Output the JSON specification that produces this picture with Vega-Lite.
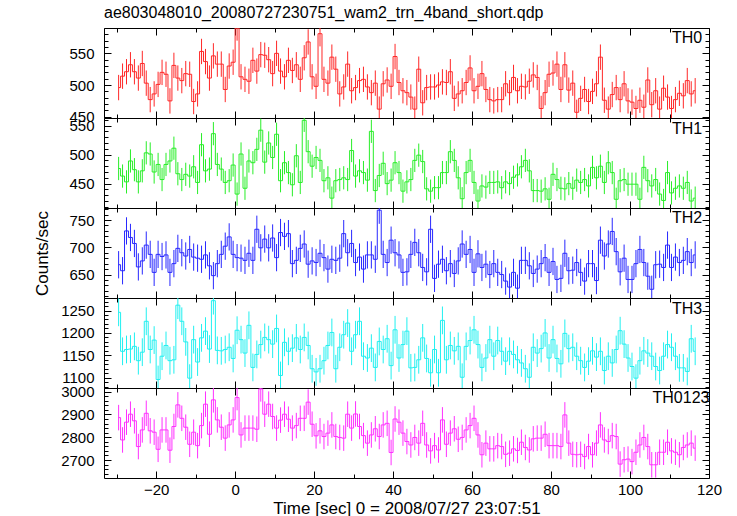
{
"$schema": "https://vega.github.io/schema/vega-lite/v6.json",
"padding": {"left": 33, "top": 5, "right": 5, "bottom": 0},
"title": {"text": "ae803048010_20080727230751_wam2_trn_4band_short.qdp", "anchor": "start", "frame": "group", "fontSize": 16, "fontWeight": "normal", "font": "Liberation Sans", "color": "black", "offset": -16, "baseline": "bottom"},
"spacing": 0,
"bounds": "flush",
"config": {
  "font": "Liberation Sans",
  "view": {"stroke": null},
  "axis": {"grid": false, "domainColor": "black", "tickColor": "black", "labelColor": "black", "titleColor": "black", "labelFontSize": 15, "titleFontSize": 17, "titleFontWeight": "normal", "labelOverlap": false, "labelFlush": false, "labelBound": false, "domainWidth": 1, "tickWidth": 1, "labelFont": "Liberation Sans", "titleFont": "Liberation Sans"}
},
"datasets": {
"th0": [
{"t":-29.5,"v":496,"e":20},{"t":-28.5,"v":514,"e":20},{"t":-27.5,"v":521,"e":20},{"t":-26.5,"v":532,"e":20},{"t":-25.5,"v":521,"e":20},{"t":-24.5,"v":511,"e":20},{"t":-23.5,"v":534,"e":20},{"t":-22.5,"v":503,"e":20},{"t":-21.5,"v":477,"e":20},{"t":-20.5,"v":486,"e":20},
{"t":-19.5,"v":501,"e":20},{"t":-18.5,"v":520,"e":20},{"t":-17.5,"v":517,"e":20},{"t":-16.5,"v":475,"e":20},{"t":-15.5,"v":531,"e":20},{"t":-14.5,"v":511,"e":20},{"t":-13.5,"v":507,"e":20},{"t":-12.5,"v":518,"e":20},{"t":-11.5,"v":517,"e":20},{"t":-10.5,"v":474,"e":20},
{"t":-9.5,"v":486,"e":20},{"t":-8.5,"v":553,"e":20},{"t":-7.5,"v":537,"e":20},{"t":-6.5,"v":511,"e":20},{"t":-5.5,"v":546,"e":20},{"t":-4.5,"v":533,"e":20},{"t":-3.5,"v":533,"e":20},{"t":-2.5,"v":493,"e":20},{"t":-1.5,"v":530,"e":20},{"t":-0.5,"v":536,"e":20},
{"t":0.5,"v":590,"e":20},{"t":1.5,"v":513,"e":20},{"t":2.5,"v":509,"e":20},{"t":3.5,"v":506,"e":20},{"t":4.5,"v":539,"e":20},{"t":5.5,"v":522,"e":20},{"t":6.5,"v":548,"e":20},{"t":7.5,"v":547,"e":20},{"t":8.5,"v":540,"e":20},{"t":9.5,"v":518,"e":20},
{"t":10.5,"v":550,"e":20},{"t":11.5,"v":522,"e":20},{"t":12.5,"v":513,"e":20},{"t":13.5,"v":539,"e":20},{"t":14.5,"v":523,"e":20},{"t":15.5,"v":532,"e":20},{"t":16.5,"v":509,"e":20},{"t":17.5,"v":543,"e":20},{"t":18.5,"v":568,"e":20},{"t":19.5,"v":513,"e":20},
{"t":20.5,"v":498,"e":20},{"t":21.5,"v":581,"e":20},{"t":22.5,"v":509,"e":20},{"t":23.5,"v":503,"e":20},{"t":24.5,"v":544,"e":20},{"t":25.5,"v":525,"e":20},{"t":26.5,"v":486,"e":20},{"t":27.5,"v":497,"e":20},{"t":28.5,"v":533,"e":20},{"t":29.5,"v":491,"e":20},
{"t":30.5,"v":496,"e":20},{"t":31.5,"v":507,"e":20},{"t":32.5,"v":509,"e":20},{"t":33.5,"v":497,"e":20},{"t":34.5,"v":488,"e":20},{"t":35.5,"v":503,"e":20},{"t":36.5,"v":462,"e":20},{"t":37.5,"v":502,"e":20},{"t":38.5,"v":508,"e":20},{"t":39.5,"v":498,"e":20},
{"t":40.5,"v":545,"e":20},{"t":41.5,"v":504,"e":20},{"t":42.5,"v":491,"e":20},{"t":43.5,"v":488,"e":20},{"t":44.5,"v":481,"e":20},{"t":45.5,"v":462,"e":20},{"t":46.5,"v":525,"e":20},{"t":47.5,"v":472,"e":20},{"t":48.5,"v":496,"e":20},{"t":49.5,"v":497,"e":20},
{"t":50.5,"v":497,"e":20},{"t":51.5,"v":500,"e":20},{"t":52.5,"v":505,"e":20},{"t":53.5,"v":504,"e":20},{"t":54.5,"v":521,"e":20},{"t":55.5,"v":479,"e":20},{"t":56.5,"v":486,"e":20},{"t":57.5,"v":491,"e":20},{"t":58.5,"v":504,"e":20},{"t":59.5,"v":527,"e":20},
{"t":60.5,"v":491,"e":20},{"t":61.5,"v":498,"e":20},{"t":62.5,"v":518,"e":20},{"t":63.5,"v":493,"e":20},{"t":64.5,"v":477,"e":20},{"t":65.5,"v":475,"e":20},{"t":66.5,"v":477,"e":20},{"t":67.5,"v":477,"e":20},{"t":68.5,"v":502,"e":20},{"t":69.5,"v":488,"e":20},
{"t":70.5,"v":512,"e":20},{"t":71.5,"v":491,"e":20},{"t":72.5,"v":498,"e":20},{"t":73.5,"v":497,"e":20},{"t":74.5,"v":506,"e":20},{"t":75.5,"v":516,"e":20},{"t":76.5,"v":512,"e":20},{"t":77.5,"v":463,"e":20},{"t":78.5,"v":488,"e":20},{"t":79.5,"v":517,"e":20},
{"t":80.5,"v":519,"e":20},{"t":81.5,"v":533,"e":20},{"t":82.5,"v":493,"e":20},{"t":83.5,"v":532,"e":20},{"t":84.5,"v":492,"e":20},{"t":85.5,"v":503,"e":20},{"t":86.5,"v":457,"e":20},{"t":87.5,"v":479,"e":20},{"t":88.5,"v":493,"e":20},{"t":89.5,"v":474,"e":20},
{"t":90.5,"v":490,"e":20},{"t":91.5,"v":502,"e":20},{"t":92.5,"v":544,"e":20},{"t":93.5,"v":476,"e":20},{"t":94.5,"v":462,"e":20},{"t":95.5,"v":485,"e":20},{"t":96.5,"v":496,"e":20},{"t":97.5,"v":477,"e":20},{"t":98.5,"v":502,"e":20},{"t":99.5,"v":475,"e":20},
{"t":100.5,"v":473,"e":20},{"t":101.5,"v":463,"e":20},{"t":102.5,"v":476,"e":20},{"t":103.5,"v":465,"e":20},{"t":104.5,"v":508,"e":20},{"t":105.5,"v":469,"e":20},{"t":106.5,"v":491,"e":20},{"t":107.5,"v":462,"e":20},{"t":108.5,"v":495,"e":20},{"t":109.5,"v":481,"e":20},
{"t":110.5,"v":463,"e":20},{"t":111.5,"v":477,"e":20},{"t":112.5,"v":487,"e":20},{"t":113.5,"v":483,"e":20},{"t":114.5,"v":507,"e":20},{"t":115.5,"v":486,"e":20},{"t":116.5,"v":491,"e":20}
],
"th1": [
{"t":-29.5,"v":476,"e":20},{"t":-28.5,"v":463,"e":20},{"t":-27.5,"v":453,"e":20},{"t":-26.5,"v":489,"e":20},{"t":-25.5,"v":474,"e":20},{"t":-24.5,"v":453,"e":20},{"t":-23.5,"v":472,"e":20},{"t":-22.5,"v":503,"e":20},{"t":-21.5,"v":501,"e":20},{"t":-20.5,"v":470,"e":20},
{"t":-19.5,"v":483,"e":20},{"t":-18.5,"v":457,"e":20},{"t":-17.5,"v":483,"e":20},{"t":-16.5,"v":489,"e":20},{"t":-15.5,"v":511,"e":20},{"t":-14.5,"v":467,"e":20},{"t":-13.5,"v":457,"e":20},{"t":-12.5,"v":466,"e":20},{"t":-11.5,"v":463,"e":20},{"t":-10.5,"v":479,"e":20},
{"t":-9.5,"v":452,"e":20},{"t":-8.5,"v":517,"e":20},{"t":-7.5,"v":472,"e":20},{"t":-6.5,"v":475,"e":20},{"t":-5.5,"v":536,"e":20},{"t":-4.5,"v":483,"e":20},{"t":-3.5,"v":475,"e":20},{"t":-2.5,"v":452,"e":20},{"t":-1.5,"v":455,"e":20},{"t":-0.5,"v":482,"e":20},
{"t":0.5,"v":432,"e":20},{"t":1.5,"v":501,"e":20},{"t":2.5,"v":442,"e":20},{"t":3.5,"v":489,"e":20},{"t":4.5,"v":486,"e":20},{"t":5.5,"v":509,"e":20},{"t":6.5,"v":542,"e":20},{"t":7.5,"v":487,"e":20},{"t":8.5,"v":520,"e":20},{"t":9.5,"v":495,"e":20},
{"t":10.5,"v":535,"e":20},{"t":11.5,"v":455,"e":20},{"t":12.5,"v":486,"e":20},{"t":13.5,"v":469,"e":20},{"t":14.5,"v":448,"e":20},{"t":15.5,"v":498,"e":20},{"t":16.5,"v":452,"e":20},{"t":17.5,"v":559,"e":20},{"t":18.5,"v":505,"e":20},{"t":19.5,"v":480,"e":20},
{"t":20.5,"v":495,"e":20},{"t":21.5,"v":490,"e":20},{"t":22.5,"v":455,"e":20},{"t":23.5,"v":460,"e":20},{"t":24.5,"v":425,"e":20},{"t":25.5,"v":455,"e":20},{"t":26.5,"v":457,"e":20},{"t":27.5,"v":460,"e":20},{"t":28.5,"v":457,"e":20},{"t":29.5,"v":507,"e":20},
{"t":30.5,"v":463,"e":20},{"t":31.5,"v":472,"e":20},{"t":32.5,"v":469,"e":20},{"t":33.5,"v":456,"e":20},{"t":34.5,"v":540,"e":20},{"t":35.5,"v":438,"e":20},{"t":36.5,"v":464,"e":20},{"t":37.5,"v":485,"e":20},{"t":38.5,"v":450,"e":20},{"t":39.5,"v":456,"e":20},
{"t":40.5,"v":486,"e":20},{"t":41.5,"v":469,"e":20},{"t":42.5,"v":437,"e":20},{"t":43.5,"v":453,"e":20},{"t":44.5,"v":457,"e":20},{"t":45.5,"v":490,"e":20},{"t":46.5,"v":499,"e":20},{"t":47.5,"v":488,"e":20},{"t":48.5,"v":441,"e":20},{"t":49.5,"v":437,"e":20},
{"t":50.5,"v":443,"e":20},{"t":51.5,"v":443,"e":20},{"t":52.5,"v":469,"e":20},{"t":53.5,"v":469,"e":20},{"t":54.5,"v":505,"e":20},{"t":55.5,"v":490,"e":20},{"t":56.5,"v":460,"e":20},{"t":57.5,"v":424,"e":20},{"t":58.5,"v":469,"e":20},{"t":59.5,"v":490,"e":20},
{"t":60.5,"v":452,"e":20},{"t":61.5,"v":420,"e":20},{"t":62.5,"v":446,"e":20},{"t":63.5,"v":444,"e":20},{"t":64.5,"v":452,"e":20},{"t":65.5,"v":452,"e":20},{"t":66.5,"v":453,"e":20},{"t":67.5,"v":443,"e":20},{"t":68.5,"v":453,"e":20},{"t":69.5,"v":450,"e":20},
{"t":70.5,"v":461,"e":20},{"t":71.5,"v":465,"e":20},{"t":72.5,"v":479,"e":20},{"t":73.5,"v":490,"e":20},{"t":74.5,"v":472,"e":20},{"t":75.5,"v":438,"e":20},{"t":76.5,"v":438,"e":20},{"t":77.5,"v":437,"e":20},{"t":78.5,"v":441,"e":20},{"t":79.5,"v":423,"e":20},
{"t":80.5,"v":466,"e":20},{"t":81.5,"v":457,"e":20},{"t":82.5,"v":442,"e":20},{"t":83.5,"v":441,"e":20},{"t":84.5,"v":450,"e":20},{"t":85.5,"v":442,"e":20},{"t":86.5,"v":456,"e":20},{"t":87.5,"v":452,"e":20},{"t":88.5,"v":457,"e":20},{"t":89.5,"v":446,"e":20},
{"t":90.5,"v":478,"e":20},{"t":91.5,"v":460,"e":20},{"t":92.5,"v":480,"e":20},{"t":93.5,"v":452,"e":20},{"t":94.5,"v":486,"e":20},{"t":95.5,"v":469,"e":20},{"t":96.5,"v":423,"e":20},{"t":97.5,"v":455,"e":20},{"t":98.5,"v":457,"e":20},{"t":99.5,"v":449,"e":20},
{"t":100.5,"v":449,"e":20},{"t":101.5,"v":449,"e":20},{"t":102.5,"v":423,"e":20},{"t":103.5,"v":478,"e":20},{"t":104.5,"v":455,"e":20},{"t":105.5,"v":446,"e":20},{"t":106.5,"v":457,"e":20},{"t":107.5,"v":432,"e":20},{"t":108.5,"v":421,"e":20},{"t":109.5,"v":469,"e":20},
{"t":110.5,"v":434,"e":20},{"t":111.5,"v":442,"e":20},{"t":112.5,"v":446,"e":20},{"t":113.5,"v":442,"e":20},{"t":114.5,"v":452,"e":20},{"t":115.5,"v":420,"e":20},{"t":116.5,"v":425,"e":20}
],
"th2": [
{"t":-29.5,"v":668,"e":25},{"t":-28.5,"v":657,"e":25},{"t":-27.5,"v":730,"e":25},{"t":-26.5,"v":718,"e":25},{"t":-25.5,"v":707,"e":25},{"t":-24.5,"v":664,"e":25},{"t":-23.5,"v":675,"e":25},{"t":-22.5,"v":704,"e":25},{"t":-21.5,"v":687,"e":25},{"t":-20.5,"v":654,"e":25},
{"t":-19.5,"v":687,"e":25},{"t":-18.5,"v":683,"e":25},{"t":-17.5,"v":686,"e":25},{"t":-16.5,"v":654,"e":25},{"t":-15.5,"v":670,"e":25},{"t":-14.5,"v":698,"e":25},{"t":-13.5,"v":690,"e":25},{"t":-12.5,"v":684,"e":25},{"t":-11.5,"v":696,"e":25},{"t":-10.5,"v":682,"e":25},
{"t":-9.5,"v":680,"e":25},{"t":-8.5,"v":678,"e":25},{"t":-7.5,"v":686,"e":25},{"t":-6.5,"v":666,"e":25},{"t":-5.5,"v":648,"e":25},{"t":-4.5,"v":670,"e":25},{"t":-3.5,"v":687,"e":25},{"t":-2.5,"v":702,"e":25},{"t":-1.5,"v":719,"e":25},{"t":-0.5,"v":687,"e":25},
{"t":0.5,"v":681,"e":25},{"t":1.5,"v":680,"e":25},{"t":2.5,"v":676,"e":25},{"t":3.5,"v":689,"e":25},{"t":4.5,"v":676,"e":25},{"t":5.5,"v":733,"e":25},{"t":6.5,"v":699,"e":25},{"t":7.5,"v":715,"e":25},{"t":8.5,"v":699,"e":25},{"t":9.5,"v":717,"e":25},
{"t":10.5,"v":681,"e":25},{"t":11.5,"v":727,"e":25},{"t":12.5,"v":720,"e":25},{"t":13.5,"v":725,"e":25},{"t":14.5,"v":670,"e":25},{"t":15.5,"v":676,"e":25},{"t":16.5,"v":698,"e":25},{"t":17.5,"v":706,"e":25},{"t":18.5,"v":669,"e":25},{"t":19.5,"v":675,"e":25},
{"t":20.5,"v":672,"e":25},{"t":21.5,"v":689,"e":25},{"t":22.5,"v":681,"e":25},{"t":23.5,"v":660,"e":25},{"t":24.5,"v":678,"e":25},{"t":25.5,"v":676,"e":25},{"t":26.5,"v":680,"e":25},{"t":27.5,"v":725,"e":25},{"t":28.5,"v":690,"e":25},{"t":29.5,"v":707,"e":25},
{"t":30.5,"v":672,"e":25},{"t":31.5,"v":682,"e":25},{"t":32.5,"v":660,"e":25},{"t":33.5,"v":686,"e":25},{"t":34.5,"v":686,"e":25},{"t":35.5,"v":678,"e":25},{"t":36.5,"v":768,"e":25},{"t":37.5,"v":687,"e":25},{"t":38.5,"v":672,"e":25},{"t":39.5,"v":713,"e":25},
{"t":40.5,"v":690,"e":25},{"t":41.5,"v":686,"e":25},{"t":42.5,"v":654,"e":25},{"t":43.5,"v":655,"e":25},{"t":44.5,"v":687,"e":25},{"t":45.5,"v":709,"e":25},{"t":46.5,"v":690,"e":25},{"t":47.5,"v":663,"e":25},{"t":48.5,"v":655,"e":25},{"t":49.5,"v":733,"e":25},
{"t":50.5,"v":643,"e":25},{"t":51.5,"v":669,"e":25},{"t":52.5,"v":678,"e":25},{"t":53.5,"v":657,"e":25},{"t":54.5,"v":670,"e":25},{"t":55.5,"v":652,"e":25},{"t":56.5,"v":675,"e":25},{"t":57.5,"v":706,"e":25},{"t":58.5,"v":687,"e":25},{"t":59.5,"v":696,"e":25},
{"t":60.5,"v":654,"e":25},{"t":61.5,"v":688,"e":25},{"t":62.5,"v":663,"e":25},{"t":63.5,"v":669,"e":25},{"t":64.5,"v":650,"e":25},{"t":65.5,"v":670,"e":25},{"t":66.5,"v":654,"e":25},{"t":67.5,"v":650,"e":25},{"t":68.5,"v":638,"e":25},{"t":69.5,"v":627,"e":25},
{"t":70.5,"v":654,"e":25},{"t":71.5,"v":625,"e":25},{"t":72.5,"v":676,"e":25},{"t":73.5,"v":676,"e":25},{"t":74.5,"v":666,"e":25},{"t":75.5,"v":652,"e":25},{"t":76.5,"v":660,"e":25},{"t":77.5,"v":670,"e":25},{"t":78.5,"v":681,"e":25},{"t":79.5,"v":654,"e":25},
{"t":80.5,"v":674,"e":25},{"t":81.5,"v":641,"e":25},{"t":82.5,"v":643,"e":25},{"t":83.5,"v":689,"e":25},{"t":84.5,"v":657,"e":25},{"t":85.5,"v":658,"e":25},{"t":86.5,"v":672,"e":25},{"t":87.5,"v":654,"e":25},{"t":88.5,"v":638,"e":25},{"t":89.5,"v":670,"e":25},
{"t":90.5,"v":670,"e":25},{"t":91.5,"v":639,"e":25},{"t":92.5,"v":713,"e":25},{"t":93.5,"v":684,"e":25},{"t":94.5,"v":706,"e":25},{"t":95.5,"v":729,"e":25},{"t":96.5,"v":692,"e":25},{"t":97.5,"v":655,"e":25},{"t":98.5,"v":680,"e":25},{"t":99.5,"v":641,"e":25},
{"t":100.5,"v":641,"e":25},{"t":101.5,"v":670,"e":25},{"t":102.5,"v":696,"e":25},{"t":103.5,"v":672,"e":25},{"t":104.5,"v":647,"e":25},{"t":105.5,"v":623,"e":25},{"t":106.5,"v":668,"e":25},{"t":107.5,"v":669,"e":25},{"t":108.5,"v":663,"e":25},{"t":109.5,"v":704,"e":25},
{"t":110.5,"v":663,"e":25},{"t":111.5,"v":682,"e":25},{"t":112.5,"v":672,"e":25},{"t":113.5,"v":676,"e":25},{"t":114.5,"v":692,"e":25},{"t":115.5,"v":672,"e":25},{"t":116.5,"v":686,"e":25}
],
"th3": [
{"t":-29.5,"v":1246,"e":31},{"t":-28.5,"v":1159,"e":31},{"t":-27.5,"v":1163,"e":31},{"t":-26.5,"v":1164,"e":31},{"t":-25.5,"v":1170,"e":31},{"t":-24.5,"v":1138,"e":31},{"t":-23.5,"v":1157,"e":31},{"t":-22.5,"v":1226,"e":31},{"t":-21.5,"v":1163,"e":31},{"t":-20.5,"v":1184,"e":31},
{"t":-19.5,"v":1096,"e":31},{"t":-18.5,"v":1148,"e":31},{"t":-17.5,"v":1172,"e":31},{"t":-16.5,"v":1138,"e":31},{"t":-15.5,"v":1140,"e":31},{"t":-14.5,"v":1262,"e":31},{"t":-13.5,"v":1226,"e":31},{"t":-12.5,"v":1180,"e":31},{"t":-11.5,"v":1099,"e":31},{"t":-10.5,"v":1185,"e":31},
{"t":-9.5,"v":1135,"e":31},{"t":-8.5,"v":1189,"e":31},{"t":-7.5,"v":1204,"e":31},{"t":-6.5,"v":1164,"e":31},{"t":-5.5,"v":1272,"e":31},{"t":-4.5,"v":1161,"e":31},{"t":-3.5,"v":1160,"e":31},{"t":-2.5,"v":1163,"e":31},{"t":-1.5,"v":1168,"e":31},{"t":-0.5,"v":1143,"e":31},
{"t":0.5,"v":1206,"e":31},{"t":1.5,"v":1185,"e":31},{"t":2.5,"v":1155,"e":31},{"t":3.5,"v":1217,"e":31},{"t":4.5,"v":1123,"e":31},{"t":5.5,"v":1152,"e":31},{"t":6.5,"v":1174,"e":31},{"t":7.5,"v":1190,"e":31},{"t":8.5,"v":1185,"e":31},{"t":9.5,"v":1175,"e":31},
{"t":10.5,"v":1210,"e":31},{"t":11.5,"v":1105,"e":31},{"t":12.5,"v":1179,"e":31},{"t":13.5,"v":1159,"e":31},{"t":14.5,"v":1166,"e":31},{"t":15.5,"v":1189,"e":31},{"t":16.5,"v":1163,"e":31},{"t":17.5,"v":1190,"e":31},{"t":18.5,"v":1172,"e":31},{"t":19.5,"v":1120,"e":31},
{"t":20.5,"v":1113,"e":31},{"t":21.5,"v":1120,"e":31},{"t":22.5,"v":1138,"e":31},{"t":23.5,"v":1172,"e":31},{"t":24.5,"v":1201,"e":31},{"t":25.5,"v":1120,"e":31},{"t":26.5,"v":1168,"e":31},{"t":27.5,"v":1196,"e":31},{"t":28.5,"v":1222,"e":31},{"t":29.5,"v":1159,"e":31},
{"t":30.5,"v":1196,"e":31},{"t":31.5,"v":1226,"e":31},{"t":32.5,"v":1148,"e":31},{"t":33.5,"v":1144,"e":31},{"t":34.5,"v":1166,"e":31},{"t":35.5,"v":1123,"e":31},{"t":36.5,"v":1181,"e":31},{"t":37.5,"v":1163,"e":31},{"t":38.5,"v":1187,"e":31},{"t":39.5,"v":1127,"e":31},
{"t":40.5,"v":1207,"e":31},{"t":41.5,"v":1144,"e":31},{"t":42.5,"v":1174,"e":31},{"t":43.5,"v":1204,"e":31},{"t":44.5,"v":1122,"e":31},{"t":45.5,"v":1123,"e":31},{"t":46.5,"v":1140,"e":31},{"t":47.5,"v":1189,"e":31},{"t":48.5,"v":1143,"e":31},{"t":49.5,"v":1111,"e":31},
{"t":50.5,"v":1163,"e":31},{"t":51.5,"v":1111,"e":31},{"t":52.5,"v":1228,"e":31},{"t":53.5,"v":1140,"e":31},{"t":54.5,"v":1172,"e":31},{"t":55.5,"v":1160,"e":31},{"t":56.5,"v":1170,"e":31},{"t":57.5,"v":1101,"e":31},{"t":58.5,"v":1170,"e":31},{"t":59.5,"v":1183,"e":31},
{"t":60.5,"v":1207,"e":31},{"t":61.5,"v":1174,"e":31},{"t":62.5,"v":1123,"e":31},{"t":63.5,"v":1144,"e":31},{"t":64.5,"v":1185,"e":31},{"t":65.5,"v":1148,"e":31},{"t":66.5,"v":1183,"e":31},{"t":67.5,"v":1159,"e":31},{"t":68.5,"v":1137,"e":31},{"t":69.5,"v":1159,"e":31},
{"t":70.5,"v":1152,"e":31},{"t":71.5,"v":1140,"e":31},{"t":72.5,"v":1133,"e":31},{"t":73.5,"v":1120,"e":31},{"t":74.5,"v":1101,"e":31},{"t":75.5,"v":1168,"e":31},{"t":76.5,"v":1155,"e":31},{"t":77.5,"v":1165,"e":31},{"t":78.5,"v":1200,"e":31},{"t":79.5,"v":1144,"e":31},
{"t":80.5,"v":1185,"e":31},{"t":81.5,"v":1143,"e":31},{"t":82.5,"v":1131,"e":31},{"t":83.5,"v":1199,"e":31},{"t":84.5,"v":1165,"e":31},{"t":85.5,"v":1168,"e":31},{"t":86.5,"v":1148,"e":31},{"t":87.5,"v":1138,"e":31},{"t":88.5,"v":1123,"e":31},{"t":89.5,"v":1137,"e":31},
{"t":90.5,"v":1160,"e":31},{"t":91.5,"v":1146,"e":31},{"t":92.5,"v":1159,"e":31},{"t":93.5,"v":1116,"e":31},{"t":94.5,"v":1148,"e":31},{"t":95.5,"v":1133,"e":31},{"t":96.5,"v":1163,"e":31},{"t":97.5,"v":1205,"e":31},{"t":98.5,"v":1175,"e":31},{"t":99.5,"v":1144,"e":31},
{"t":100.5,"v":1125,"e":31},{"t":101.5,"v":1099,"e":31},{"t":102.5,"v":1138,"e":31},{"t":103.5,"v":1160,"e":31},{"t":104.5,"v":1155,"e":31},{"t":105.5,"v":1148,"e":31},{"t":106.5,"v":1125,"e":31},{"t":107.5,"v":1116,"e":31},{"t":108.5,"v":1148,"e":31},{"t":109.5,"v":1174,"e":31},
{"t":110.5,"v":1168,"e":31},{"t":111.5,"v":1148,"e":31},{"t":112.5,"v":1122,"e":31},{"t":113.5,"v":1122,"e":31},{"t":114.5,"v":1114,"e":31},{"t":115.5,"v":1187,"e":31},{"t":116.5,"v":1159,"e":31}
],
"th0123": [
{"t":-29.5,"v":2886,"e":56},{"t":-28.5,"v":2788,"e":56},{"t":-27.5,"v":2866,"e":56},{"t":-26.5,"v":2901,"e":56},{"t":-25.5,"v":2872,"e":56},{"t":-24.5,"v":2759,"e":56},{"t":-23.5,"v":2832,"e":56},{"t":-22.5,"v":2905,"e":56},{"t":-21.5,"v":2828,"e":56},{"t":-20.5,"v":2822,"e":56},
{"t":-19.5,"v":2747,"e":56},{"t":-18.5,"v":2832,"e":56},{"t":-17.5,"v":2832,"e":56},{"t":-16.5,"v":2743,"e":56},{"t":-15.5,"v":2847,"e":56},{"t":-14.5,"v":2942,"e":56},{"t":-13.5,"v":2883,"e":56},{"t":-12.5,"v":2844,"e":56},{"t":-11.5,"v":2769,"e":56},{"t":-10.5,"v":2822,"e":56},
{"t":-9.5,"v":2763,"e":56},{"t":-8.5,"v":2851,"e":56},{"t":-7.5,"v":2945,"e":56},{"t":-6.5,"v":2813,"e":56},{"t":-5.5,"v":2964,"e":56},{"t":-4.5,"v":2876,"e":56},{"t":-3.5,"v":2844,"e":56},{"t":-2.5,"v":2796,"e":56},{"t":-1.5,"v":2854,"e":56},{"t":-0.5,"v":2876,"e":56},
{"t":0.5,"v":2974,"e":56},{"t":1.5,"v":2810,"e":56},{"t":2.5,"v":2840,"e":56},{"t":3.5,"v":2840,"e":56},{"t":4.5,"v":2840,"e":56},{"t":5.5,"v":2835,"e":56},{"t":6.5,"v":3012,"e":56},{"t":7.5,"v":2901,"e":56},{"t":8.5,"v":2945,"e":56},{"t":9.5,"v":2891,"e":56},
{"t":10.5,"v":2840,"e":56},{"t":11.5,"v":2875,"e":56},{"t":12.5,"v":2901,"e":56},{"t":13.5,"v":2879,"e":56},{"t":14.5,"v":2840,"e":56},{"t":15.5,"v":2851,"e":56},{"t":16.5,"v":2883,"e":56},{"t":17.5,"v":2883,"e":56},{"t":18.5,"v":2954,"e":56},{"t":19.5,"v":2857,"e":56},
{"t":20.5,"v":2806,"e":56},{"t":21.5,"v":2828,"e":56},{"t":22.5,"v":2803,"e":56},{"t":23.5,"v":2818,"e":56},{"t":24.5,"v":2854,"e":56},{"t":25.5,"v":2803,"e":56},{"t":26.5,"v":2799,"e":56},{"t":27.5,"v":2796,"e":56},{"t":28.5,"v":2901,"e":56},{"t":29.5,"v":2840,"e":56},
{"t":30.5,"v":2902,"e":56},{"t":31.5,"v":2847,"e":56},{"t":32.5,"v":2807,"e":56},{"t":33.5,"v":2774,"e":56},{"t":34.5,"v":2810,"e":56},{"t":35.5,"v":2837,"e":56},{"t":36.5,"v":2803,"e":56},{"t":37.5,"v":2854,"e":56},{"t":38.5,"v":2861,"e":56},{"t":39.5,"v":2733,"e":56},
{"t":40.5,"v":2880,"e":56},{"t":41.5,"v":2866,"e":56},{"t":42.5,"v":2818,"e":56},{"t":43.5,"v":2781,"e":56},{"t":44.5,"v":2766,"e":56},{"t":45.5,"v":2799,"e":56},{"t":46.5,"v":2774,"e":56},{"t":47.5,"v":2861,"e":56},{"t":48.5,"v":2766,"e":56},{"t":49.5,"v":2740,"e":56},
{"t":50.5,"v":2763,"e":56},{"t":51.5,"v":2744,"e":56},{"t":52.5,"v":2876,"e":56},{"t":53.5,"v":2769,"e":56},{"t":54.5,"v":2818,"e":56},{"t":55.5,"v":2837,"e":56},{"t":56.5,"v":2791,"e":56},{"t":57.5,"v":2799,"e":56},{"t":58.5,"v":2832,"e":56},{"t":59.5,"v":2851,"e":56},
{"t":60.5,"v":2883,"e":56},{"t":61.5,"v":2810,"e":56},{"t":62.5,"v":2723,"e":56},{"t":63.5,"v":2774,"e":56},{"t":64.5,"v":2749,"e":56},{"t":65.5,"v":2749,"e":56},{"t":66.5,"v":2763,"e":56},{"t":67.5,"v":2759,"e":56},{"t":68.5,"v":2725,"e":56},{"t":69.5,"v":2730,"e":56},
{"t":70.5,"v":2749,"e":56},{"t":71.5,"v":2742,"e":56},{"t":72.5,"v":2778,"e":56},{"t":73.5,"v":2755,"e":56},{"t":74.5,"v":2744,"e":56},{"t":75.5,"v":2793,"e":56},{"t":76.5,"v":2796,"e":56},{"t":77.5,"v":2796,"e":56},{"t":78.5,"v":2813,"e":56},{"t":79.5,"v":2763,"e":56},
{"t":80.5,"v":2763,"e":56},{"t":81.5,"v":2763,"e":56},{"t":82.5,"v":2759,"e":56},{"t":83.5,"v":2898,"e":56},{"t":84.5,"v":2774,"e":56},{"t":85.5,"v":2725,"e":56},{"t":86.5,"v":2723,"e":56},{"t":87.5,"v":2725,"e":56},{"t":88.5,"v":2715,"e":56},{"t":89.5,"v":2759,"e":56},
{"t":90.5,"v":2723,"e":56},{"t":91.5,"v":2774,"e":56},{"t":92.5,"v":2854,"e":56},{"t":93.5,"v":2788,"e":56},{"t":94.5,"v":2781,"e":56},{"t":95.5,"v":2807,"e":56},{"t":96.5,"v":2803,"e":56},{"t":97.5,"v":2682,"e":56},{"t":98.5,"v":2701,"e":56},{"t":99.5,"v":2704,"e":56},
{"t":100.5,"v":2693,"e":56},{"t":101.5,"v":2734,"e":56},{"t":102.5,"v":2766,"e":56},{"t":103.5,"v":2799,"e":56},{"t":104.5,"v":2759,"e":56},{"t":105.5,"v":2679,"e":56},{"t":106.5,"v":2679,"e":56},{"t":107.5,"v":2734,"e":56},{"t":108.5,"v":2734,"e":56},{"t":109.5,"v":2778,"e":56},
{"t":110.5,"v":2740,"e":56},{"t":111.5,"v":2734,"e":56},{"t":112.5,"v":2723,"e":56},{"t":113.5,"v":2755,"e":56},{"t":114.5,"v":2766,"e":56},{"t":115.5,"v":2774,"e":56},{"t":116.5,"v":2752,"e":56}
],
"lab0": [{"lab": "TH0"}],
"lab1": [{"lab": "TH1"}],
"lab2": [{"lab": "TH2"}],
"lab3": [{"lab": "TH3"}],
"lab4": [{"lab": "TH0123"}]
},
"vconcat": [
{
 "width": 605, "height": 90,
 "layer": [
  {"data": {"name": "th0"}, "mark": {"type": "errorbar", "color": "#ff2828", "thickness": 1, "clip": true},
   "encoding": {
    "x": {"field": "t", "type": "quantitative", "scale": {"domain": [-33.2, 120], "nice": false, "zero": false}, "axis": {"orient": "bottom", "values": [-30,-20,-10,0,10,20,30,40,50,60,70,80,90,100,110,120], "labels": false, "title": null, "tickSize": {"condition": {"test": "datum.value % 20 === 0", "value": -7}, "value": -4}}},
    "y": {"field": "v", "type": "quantitative", "scale": {"domain": [448, 590], "nice": false, "zero": false}, "axis": {"orient": "left", "values": [450,460,470,480,490,500,510,520,530,540,550,560,570,580,590], "format": "d", "labelExpr": "datum.value % 50 === 0 ? datum.label : ''", "labelPadding": 17, "title": null, "tickSize": {"condition": {"test": "datum.value % 50 === 0", "value": -7}, "value": -4}}},
    "yError": {"field": "e"}
   }},
  {"data": {"name": "th0"}, "mark": {"type": "line", "interpolate": "step", "color": "#ff2828", "strokeWidth": 1, "clip": true},
   "encoding": {
    "x": {"field": "t", "type": "quantitative", "scale": {"domain": [-33.2, 120], "nice": false, "zero": false}, "axis": {"orient": "top", "values": [-30,-20,-10,0,10,20,30,40,50,60,70,80,90,100,110,120], "labels": false, "title": null, "tickSize": {"condition": {"test": "datum.value % 20 === 0", "value": -7}, "value": -4}}},
    "y": {"field": "v", "type": "quantitative", "scale": {"domain": [448, 590], "nice": false, "zero": false}, "axis": {"orient": "right", "values": [450,460,470,480,490,500,510,520,530,540,550,560,570,580,590], "labels": false, "title": null, "tickSize": {"condition": {"test": "datum.value % 50 === 0", "value": -7}, "value": -4}}}
   }},
  {"data": {"name": "lab0"}, "mark": {"type": "text", "align": "left", "baseline": "middle", "fontSize": 16, "color": "black", "font": "Liberation Sans"},
   "encoding": {
    "x": {"datum": 110.6, "type": "quantitative", "axis": null},
    "y": {"datum": 574, "type": "quantitative", "axis": null},
    "text": {"field": "lab"}
   }}
 ],
 "resolve": {"axis": {"x": "independent", "y": "independent"}}
},
{
 "width": 605, "height": 90,
 "layer": [
  {"data": {"name": "th1"}, "mark": {"type": "errorbar", "color": "#28ee28", "thickness": 1, "clip": true},
   "encoding": {
    "x": {"field": "t", "type": "quantitative", "scale": {"domain": [-33.2, 120], "nice": false, "zero": false}, "axis": {"orient": "bottom", "values": [-30,-20,-10,0,10,20,30,40,50,60,70,80,90,100,110,120], "labels": false, "title": null, "tickSize": {"condition": {"test": "datum.value % 20 === 0", "value": -7}, "value": -4}}},
    "y": {"field": "v", "type": "quantitative", "scale": {"domain": [408, 563], "nice": false, "zero": false}, "axis": {"orient": "left", "values": [410,420,430,440,450,460,470,480,490,500,510,520,530,540,550,560], "format": "d", "labelExpr": "datum.value % 50 === 0 ? datum.label : ''", "labelPadding": 17, "title": null, "tickSize": {"condition": {"test": "datum.value % 50 === 0", "value": -7}, "value": -4}}},
    "yError": {"field": "e"}
   }},
  {"data": {"name": "th1"}, "mark": {"type": "line", "interpolate": "step", "color": "#28ee28", "strokeWidth": 1, "clip": true},
   "encoding": {
    "x": {"field": "t", "type": "quantitative", "scale": {"domain": [-33.2, 120], "nice": false, "zero": false}, "axis": {"orient": "top", "values": [-30,-20,-10,0,10,20,30,40,50,60,70,80,90,100,110,120], "labels": false, "title": null, "tickSize": {"condition": {"test": "datum.value % 20 === 0", "value": -7}, "value": -4}}},
    "y": {"field": "v", "type": "quantitative", "scale": {"domain": [408, 563], "nice": false, "zero": false}, "axis": {"orient": "right", "values": [410,420,430,440,450,460,470,480,490,500,510,520,530,540,550,560], "labels": false, "title": null, "tickSize": {"condition": {"test": "datum.value % 50 === 0", "value": -7}, "value": -4}}}
   }},
  {"data": {"name": "lab1"}, "mark": {"type": "text", "align": "left", "baseline": "middle", "fontSize": 16, "color": "black", "font": "Liberation Sans"},
   "encoding": {
    "x": {"datum": 110.6, "type": "quantitative", "axis": null},
    "y": {"datum": 544, "type": "quantitative", "axis": null},
    "text": {"field": "lab"}
   }}
 ],
 "resolve": {"axis": {"x": "independent", "y": "independent"}}
},
{
 "width": 605, "height": 90,
 "layer": [
  {"data": {"name": "th2"}, "mark": {"type": "errorbar", "color": "#2828ff", "thickness": 1, "clip": true},
   "encoding": {
    "x": {"field": "t", "type": "quantitative", "scale": {"domain": [-33.2, 120], "nice": false, "zero": false}, "axis": {"orient": "bottom", "values": [-30,-20,-10,0,10,20,30,40,50,60,70,80,90,100,110,120], "labels": false, "title": null, "tickSize": {"condition": {"test": "datum.value % 20 === 0", "value": -7}, "value": -4}}},
    "y": {"field": "v", "type": "quantitative", "scale": {"domain": [607, 772], "nice": false, "zero": false}, "axis": {"orient": "left", "values": [610,620,630,640,650,660,670,680,690,700,710,720,730,740,750,760,770], "format": "d", "labelExpr": "datum.value % 50 === 0 ? datum.label : ''", "labelPadding": 17, "title": "Counts/sec", "titlePadding": 17, "tickSize": {"condition": {"test": "datum.value % 50 === 0", "value": -7}, "value": -4}}},
    "yError": {"field": "e"}
   }},
  {"data": {"name": "th2"}, "mark": {"type": "line", "interpolate": "step", "color": "#2828ff", "strokeWidth": 1, "clip": true},
   "encoding": {
    "x": {"field": "t", "type": "quantitative", "scale": {"domain": [-33.2, 120], "nice": false, "zero": false}, "axis": {"orient": "top", "values": [-30,-20,-10,0,10,20,30,40,50,60,70,80,90,100,110,120], "labels": false, "title": null, "tickSize": {"condition": {"test": "datum.value % 20 === 0", "value": -7}, "value": -4}}},
    "y": {"field": "v", "type": "quantitative", "scale": {"domain": [607, 772], "nice": false, "zero": false}, "axis": {"orient": "right", "values": [610,620,630,640,650,660,670,680,690,700,710,720,730,740,750,760,770], "labels": false, "title": null, "tickSize": {"condition": {"test": "datum.value % 50 === 0", "value": -7}, "value": -4}}}
   }},
  {"data": {"name": "lab2"}, "mark": {"type": "text", "align": "left", "baseline": "middle", "fontSize": 16, "color": "black", "font": "Liberation Sans"},
   "encoding": {
    "x": {"datum": 110.6, "type": "quantitative", "axis": null},
    "y": {"datum": 753, "type": "quantitative", "axis": null},
    "text": {"field": "lab"}
   }}
 ],
 "resolve": {"axis": {"x": "independent", "y": "independent"}}
},
{
 "width": 605, "height": 90,
 "layer": [
  {"data": {"name": "th3"}, "mark": {"type": "errorbar", "color": "#20f0f0", "thickness": 1, "clip": true},
   "encoding": {
    "x": {"field": "t", "type": "quantitative", "scale": {"domain": [-33.2, 120], "nice": false, "zero": false}, "axis": {"orient": "bottom", "values": [-30,-20,-10,0,10,20,30,40,50,60,70,80,90,100,110,120], "labels": false, "title": null, "tickSize": {"condition": {"test": "datum.value % 20 === 0", "value": -7}, "value": -4}}},
    "y": {"field": "v", "type": "quantitative", "scale": {"domain": [1077, 1278], "nice": false, "zero": false}, "axis": {"orient": "left", "values": [1080,1090,1100,1110,1120,1130,1140,1150,1160,1170,1180,1190,1200,1210,1220,1230,1240,1250,1260,1270], "format": "d", "labelExpr": "datum.value % 50 === 0 ? datum.label : ''", "labelPadding": 17, "title": null, "tickSize": {"condition": {"test": "datum.value % 50 === 0", "value": -7}, "value": -4}}},
    "yError": {"field": "e"}
   }},
  {"data": {"name": "th3"}, "mark": {"type": "line", "interpolate": "step", "color": "#20f0f0", "strokeWidth": 1, "clip": true},
   "encoding": {
    "x": {"field": "t", "type": "quantitative", "scale": {"domain": [-33.2, 120], "nice": false, "zero": false}, "axis": {"orient": "top", "values": [-30,-20,-10,0,10,20,30,40,50,60,70,80,90,100,110,120], "labels": false, "title": null, "tickSize": {"condition": {"test": "datum.value % 20 === 0", "value": -7}, "value": -4}}},
    "y": {"field": "v", "type": "quantitative", "scale": {"domain": [1077, 1278], "nice": false, "zero": false}, "axis": {"orient": "right", "values": [1080,1090,1100,1110,1120,1130,1140,1150,1160,1170,1180,1190,1200,1210,1220,1230,1240,1250,1260,1270], "labels": false, "title": null, "tickSize": {"condition": {"test": "datum.value % 50 === 0", "value": -7}, "value": -4}}}
   }},
  {"data": {"name": "lab3"}, "mark": {"type": "text", "align": "left", "baseline": "middle", "fontSize": 16, "color": "black", "font": "Liberation Sans"},
   "encoding": {
    "x": {"datum": 110.6, "type": "quantitative", "axis": null},
    "y": {"datum": 1253, "type": "quantitative", "axis": null},
    "text": {"field": "lab"}
   }}
 ],
 "resolve": {"axis": {"x": "independent", "y": "independent"}}
},
{
 "width": 605, "height": 90,
 "layer": [
  {"data": {"name": "th0123"}, "mark": {"type": "errorbar", "color": "#ff30ff", "thickness": 1, "clip": true},
   "encoding": {
    "x": {"field": "t", "type": "quantitative", "scale": {"domain": [-33.2, 120], "nice": false, "zero": false}, "axis": {"orient": "bottom", "values": [-30,-20,-10,0,10,20,30,40,50,60,70,80,90,100,110,120], "format": "d", "labelExpr": "datum.value % 20 === 0 ? datum.label : ''", "labelPadding": 11, "title": "Time [sec] 0 = 2008/07/27 23:07:51", "titlePadding": 0, "tickSize": {"condition": {"test": "datum.value % 20 === 0", "value": -7}, "value": -4}}},
    "y": {"field": "v", "type": "quantitative", "scale": {"domain": [2621, 3016], "nice": false, "zero": false}, "axis": {"orient": "left", "values": [2640,2660,2680,2700,2720,2740,2760,2780,2800,2820,2840,2860,2880,2900,2920,2940,2960,2980,3000], "format": "d", "labelExpr": "datum.value % 100 === 0 ? datum.label : ''", "labelPadding": 17, "title": null, "tickSize": {"condition": {"test": "datum.value % 100 === 0", "value": -7}, "value": -4}}},
    "yError": {"field": "e"}
   }},
  {"data": {"name": "th0123"}, "mark": {"type": "line", "interpolate": "step", "color": "#ff30ff", "strokeWidth": 1, "clip": true},
   "encoding": {
    "x": {"field": "t", "type": "quantitative", "scale": {"domain": [-33.2, 120], "nice": false, "zero": false}, "axis": {"orient": "top", "values": [-30,-20,-10,0,10,20,30,40,50,60,70,80,90,100,110,120], "labels": false, "title": null, "tickSize": {"condition": {"test": "datum.value % 20 === 0", "value": -7}, "value": -4}}},
    "y": {"field": "v", "type": "quantitative", "scale": {"domain": [2621, 3016], "nice": false, "zero": false}, "axis": {"orient": "right", "values": [2640,2660,2680,2700,2720,2740,2760,2780,2800,2820,2840,2860,2880,2900,2920,2940,2960,2980,3000], "labels": false, "title": null, "tickSize": {"condition": {"test": "datum.value % 100 === 0", "value": -7}, "value": -4}}}
   }},
  {"data": {"name": "lab4"}, "mark": {"type": "text", "align": "left", "baseline": "middle", "fontSize": 16, "color": "black", "font": "Liberation Sans"},
   "encoding": {
    "x": {"datum": 105.7, "type": "quantitative", "axis": null},
    "y": {"datum": 2972, "type": "quantitative", "axis": null},
    "text": {"field": "lab"}
   }}
 ],
 "resolve": {"axis": {"x": "independent", "y": "independent"}}
}
]
}
